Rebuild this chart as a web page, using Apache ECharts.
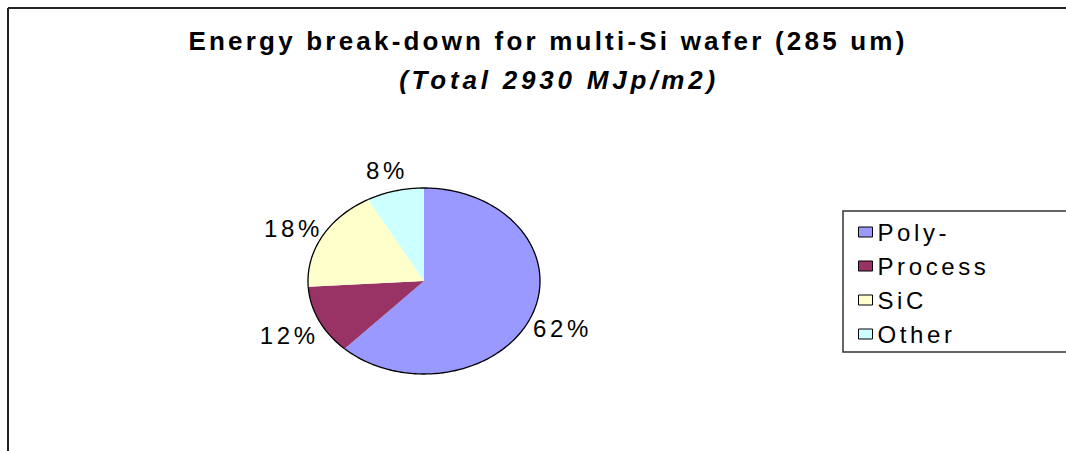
<!DOCTYPE html>
<html>
<head>
<meta charset="utf-8">
<script src="https://cdn.jsdelivr.net/npm/echarts@6/dist/echarts.min.js"></script>
<style>
  html, body { margin: 0; padding: 0; background: #fff; }
  #chart { width: 1066px; height: 451px; }
  /* the source export has wide letter spacing on every text */
  #chart text { letter-spacing: 3.6px; }
  #chart text[style*="bold"] { letter-spacing: 3.2px; }
  #chart text[style*="italic"] { letter-spacing: 3.8px; }
</style>
</head>
<body>
<div id="chart"></div>
<script>
const categories = ['Poly-', 'Process', 'SiC', 'Other'];
const shares = [62, 12, 18, 8];
const colors = ['#9999FF', '#993366', '#FFFFCC', '#CCFFFF'];
const titleText = 'Energy break-down for multi-Si wafer (285 um)';
const subtitleText = '(Total 2930 MJp/m2)';

const FONT = 'Liberation Sans, Arial, sans-serif';
// elliptical pie geometry (the original is a stretched Excel pie)
const cx = 424, cy = 281, rx = 116, ry = 93;
const labelRx = rx + 33, labelRy = ry + 25, labelDy = 4;

const total = shares.reduce((a, b) => a + b, 0);
const starts = [];
shares.reduce((acc, v) => { starts.push(acc); return acc + v; }, 0);

function ellipsePt(t, ax, ay) {
  return [cx + ax * Math.sin(t), cy - ay * Math.cos(t)];
}

function renderSlice(params, api) {
  const i = params.dataIndex;
  const v = api.value(0);
  const a0 = starts[i] / total * Math.PI * 2;
  const a1 = (starts[i] + v) / total * Math.PI * 2;
  const steps = Math.max(8, Math.ceil((a1 - a0) / 0.02));
  const arc = [];
  for (let k = 0; k <= steps; k++) {
    arc.push(ellipsePt(a0 + (a1 - a0) * k / steps, rx, ry));
  }
  const mid = (a0 + a1) / 2;
  const lp = ellipsePt(mid, labelRx, labelRy);
  return {
    type: 'group',
    children: [
      {
        type: 'polygon',
        shape: { points: [[cx, cy]].concat(arc) },
        style: { fill: colors[i], stroke: null }
      },
      {
        type: 'polyline',
        shape: { points: arc },
        style: { fill: null, stroke: '#000', lineWidth: 1.3 }
      },
      {
        type: 'text',
        style: {
          text: Math.round(v / total * 100) + '%',
          x: lp[0], y: lp[1] + labelDy,
          fill: '#000',
          fontSize: 24,
          fontFamily: FONT,
          textAlign: 'center',
          textVerticalAlign: 'middle'
        }
      }
    ]
  };
}

const chart = echarts.init(document.getElementById('chart'), null, { renderer: 'svg' });

chart.setOption({
  animation: false,
  backgroundColor: '#fff',
  color: colors,
  legend: {
    data: categories,
    orient: 'vertical',
    left: 853,
    top: 215,
    icon: 'rect',
    itemWidth: 14,
    itemHeight: 10,
    itemGap: 10,
    itemTextGap: 9,
    selectedMode: false,
    itemStyle: { borderColor: '#000', borderWidth: 1 },
    textStyle: { fontSize: 24, lineHeight: 24, color: '#000', fontFamily: FONT }
  },
  graphic: [
    { type: 'line', shape: { x1: 8, y1: 8, x2: 1066, y2: 8 }, style: { stroke: '#222', lineWidth: 2 } },
    { type: 'line', shape: { x1: 8, y1: 8, x2: 8, y2: 451 }, style: { stroke: '#222', lineWidth: 2 } },
    { type: 'rect', shape: { x: 843, y: 211, width: 240, height: 141 }, style: { fill: null, stroke: '#333', lineWidth: 1.5 } },
    {
      type: 'text',
      style: {
        text: titleText, x: 548, y: 41, fill: '#000',
        fontSize: 26, fontWeight: 'bold', fontFamily: FONT,
        textAlign: 'center', textVerticalAlign: 'middle'
      }
    },
    {
      type: 'text',
      style: {
        text: subtitleText, x: 559, y: 80, fill: '#000',
        fontSize: 26, fontWeight: 'bold', fontStyle: 'italic', fontFamily: FONT,
        textAlign: 'center', textVerticalAlign: 'middle'
      }
    }
  ],
  series: [
    {
      type: 'custom',
      name: 'Energy',
      coordinateSystem: 'none',
      silent: true,
      data: shares.map(v => [v]),
      renderItem: renderSlice
    },
    {
      // invisible pie, only feeds the legend with item names and colours
      type: 'pie',
      silent: true,
      radius: [0, 0],
      center: [-50, -50],
      label: { show: false },
      labelLine: { show: false },
      data: categories.map((name, i) => ({ name, value: shares[i] }))
    }
  ]
});
</script>
</body>
</html>
